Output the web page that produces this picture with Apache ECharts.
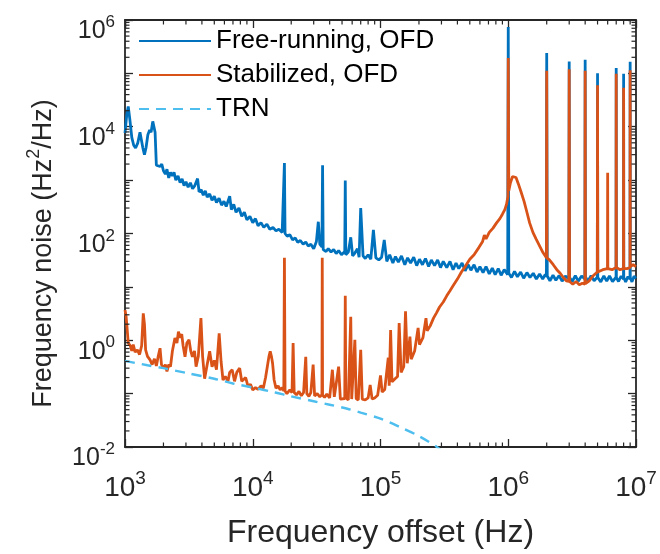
<!DOCTYPE html>
<html><head><meta charset="utf-8">
<script src="https://cdn.jsdelivr.net/npm/echarts@6/dist/echarts.min.js"></script>
<style>html,body{margin:0;padding:0;background:#fff}#c{width:660px;height:554px}</style>
</head><body><div id="c"></div>
<script>
const seriesNames = ['Free-running, OFD', 'Stabilized, OFD', 'TRN'];
const seriesColors = ['#0072BD', '#D95319', '#4DBEEE'];

// [frequency offset (Hz), frequency noise (Hz^2/Hz)]
const freeRunning = [
[1.00e3,7.6e3],[1.03e3,1.6e4],[1.06e3,2.4e4],[1.09e3,1.4e4],[1.13e3,6.3e3],[1.17e3,4.5e3],[1.21e3,4.0e3],[1.26e3,5.0e3],[1.31e3,7.9e3],[1.34e3,7.6e3],
[1.38e3,4.0e3],[1.42e3,3.0e3],[1.46e3,4.0e3],[1.51e3,7.1e3],[1.56e3,8.7e3],[1.60e3,7.9e3],[1.65e3,1.26e4],[1.69e3,1.35e4],[1.72e3,7.9e3],[1.76e3,1.9e3],
[1.82e3,2.0e3],[1.88e3,1.8e3],[1.94e3,2.0e3],[2.00e3,1.5e3],[2.07e3,1.3e3],[2.13e3,1.6e3],[2.20e3,1.1e3],[2.27e3,1.4e3],[2.35e3,1.2e3],[2.42e3,1.4e3],
[2.50e3,1.0e3],[2.60e3,1.2e3],[2.70e3,9.0e2],[2.80e3,1.05e3],[2.90e3,7.9e2],[3.00e3,9.3e2],[3.12e3,7.4e2],[3.25e3,8.9e2],[3.38e3,6.9e2],[3.52e3,7.9e2],
[3.70e3,1.07e3],[3.80e3,6.0e2],[3.95e3,6.6e2],[4.10e3,5.2e2],[4.25e3,6.3e2],[4.40e3,4.8e2],[4.60e3,5.5e2],[4.80e3,4.2e2],[5.00e3,5.0e2],[5.20e3,3.8e2],
[5.45e3,4.6e2],[5.70e3,3.4e2],[5.95e3,4.0e2],[6.20e3,3.2e2],[6.60e3,5.0e2],[6.80e3,2.8e2],[7.10e3,3.5e2],[7.40e3,2.5e2],[7.80e3,3.0e2],[8.20e3,2.1e2],
[8.60e3,2.5e2],[9.00e3,1.8e2],[9.50e3,2.1e2],[1.00e4,1.6e2],[1.05e4,1.9e2],[1.10e4,1.4e2],[1.16e4,1.6e2],[1.22e4,1.3e2],[1.29e4,1.5e2],[1.36e4,1.2e2],
[1.44e4,1.3e2],[1.52e4,1.12e2],[1.60e4,1.2e2],[1.70e4,1.05e2],[1.75e4,1.1e2],[1.77e4,2.1e3],[1.79e4,1.0e2],[1.86e4,8.9e1],[1.95e4,9.5e1],[2.05e4,7.6e1],
[2.15e4,8.3e1],[2.25e4,6.8e1],[2.36e4,7.4e1],[2.48e4,6.3e1],[2.60e4,6.9e1],[2.72e4,5.8e1],[2.85e4,6.3e1],[3.00e4,5.2e1],[3.15e4,7.1e1],[3.26e4,1.66e2],
[3.35e4,6.3e1],[3.48e4,5.6e1],[3.52e4,1.9e3],[3.56e4,5.0e1],[3.75e4,4.6e1],[3.90e4,5.2e1],[4.10e4,4.5e1],[4.30e4,5.0e1],[4.50e4,4.2e1],[4.70e4,4.8e1],
[4.95e4,4.0e1],[5.25e4,4.6e1],[5.30e4,9.8e2],[5.35e4,4.0e1],[5.60e4,4.5e1],[5.85e4,8.5e1],[6.05e4,3.8e1],[6.30e4,4.3e1],[6.60e4,5.2e1],[6.80e4,3.6e1],
[7.00e4,3.0e2],[7.30e4,3.8e1],[7.60e4,3.4e1],[8.00e4,4.0e1],[8.40e4,3.3e1],[8.80e4,1.17e2],[9.20e4,3.5e1],[9.70e4,3.2e1],[1.02e5,3.6e1],[1.07e5,7.6e1],
[1.12e5,30],[1.18e5,40],[1.25e5,28],[1.31e5,37],[1.38e5,29],[1.46e5,38],[1.55e5,26],[1.63e5,35],[1.72e5,28],[1.82e5,36],
[1.92e5,25],[2.02e5,33],[2.13e5,26],[2.25e5,34],[2.38e5,24],[2.50e5,32],[2.65e5,25],[2.80e5,32],[2.95e5,23],[3.10e5,30],
[3.30e5,23],[3.50e5,30],[3.70e5,21],[3.90e5,28],[4.10e5,22],[4.35e5,28],[4.60e5,20],[4.85e5,26],[5.10e5,20.5],[5.40e5,26],
[5.70e5,19],[6.00e5,24],[6.35e5,18.5],[6.70e5,24],[7.10e5,17.5],[7.50e5,22.5],[7.90e5,17],[8.35e5,22],[8.80e5,16.5],[9.30e5,21],
[9.90e5,17],[1.00e6,7.4e5],[1.01e6,18],[1.06e6,15],[1.12e6,19.5],[1.18e6,15.5],[1.25e6,19],[1.32e6,14.5],[1.40e6,18.5],[1.48e6,15],
[1.57e6,18],[1.66e6,14],[1.76e6,17.5],[1.86e6,14],[1.95e6,17],[1.99e6,15.5],[2.00e6,2.4e5],[2.02e6,16],[2.12e6,13],[2.24e6,16.5],
[2.36e6,13.3],[2.50e6,16.3],[2.64e6,12.8],[2.80e6,16],[2.98e6,14],[3.00e6,1.66e5],[3.02e6,15],[3.17e6,12.6],[3.35e6,16.2],[3.53e6,12.8],
[3.75e6,16],[3.98e6,14],[4.00e6,1.8e5],[4.02e6,15.5],[4.20e6,12.6],[4.45e6,16.2],[4.70e6,13],[4.98e6,15.2],[5.00e6,1.0e5],[5.02e6,15],
[5.30e6,12.4],[5.60e6,16],[5.90e6,12.8],[6.20e6,16],[6.55e6,12.6],[6.98e6,15.3],[7.00e6,1.26e5],[7.02e6,15],[7.30e6,12.6],[7.65e6,16],
[7.98e6,14],[8.00e6,9.8e4],[8.02e6,15],[8.30e6,12.4],[8.65e6,15.6],[8.98e6,14],[9.00e6,1.66e5],[9.02e6,15],[9.30e6,12.4],[9.65e6,15.8],
[1.00e7,14.5]
];

const stabilized = [
[1.00e3,3.7],[1.02e3,2.8],[1.04e3,1.6],[1.06e3,0.89],[1.10e3,0.79],[1.13e3,0.63],[1.16e3,0.83],[1.20e3,0.60],[1.25e3,0.66],[1.30e3,0.54],
[1.35e3,0.79],[1.39e3,3.2],[1.42e3,2.0],[1.45e3,0.66],[1.50e3,0.50],[1.57e3,0.43],[1.63e3,0.35],[1.70e3,0.45],[1.76e3,0.33],[1.82e3,0.50],
[1.88e3,0.71],[1.93e3,0.35],[2.00e3,0.30],[2.07e3,0.35],[2.13e3,0.26],[2.20e3,0.35],[2.27e3,0.32],[2.35e3,0.63],[2.46e3,1.1],[2.55e3,0.89],
[2.62e3,1.45],[2.70e3,1.12],[2.78e3,1.3],[2.85e3,0.79],[2.95e3,0.49],[3.05e3,0.89],[3.17e3,1.02],[3.27e3,0.63],[3.37e3,0.49],[3.50e3,0.63],
[3.60e3,0.32],[3.75e3,0.50],[3.93e3,2.6],[4.05e3,0.50],[4.20e3,0.19],[4.40e3,0.35],[4.60e3,0.62],[4.80e3,0.32],[5.00e3,0.42],[5.20e3,0.28],
[5.46e3,1.35],[5.65e3,0.40],[5.85e3,0.18],[6.10e3,0.21],[6.40e3,0.17],[6.60e3,0.25],[6.90e3,0.28],[7.20e3,0.17],[7.50e3,0.25],[7.90e3,0.30],
[8.20e3,0.17],[8.50e3,0.16],[8.80e3,0.20],[9.20e3,0.135],[9.60e3,0.15],[1.00e4,0.117],[1.05e4,0.13],[1.10e4,0.12],[1.16e4,0.14],[1.21e4,0.126],
[1.26e4,0.20],[1.30e4,0.32],[1.34e4,0.50],[1.37e4,0.62],[1.40e4,0.50],[1.43e4,0.37],[1.47e4,0.18],[1.52e4,0.126],[1.58e4,0.14],[1.64e4,0.117],
[1.70e4,0.13],[1.75e4,0.112],[1.77e4,35],[1.79e4,0.112],[1.85e4,0.10],[1.95e4,0.117],[2.03e4,0.105],[2.07e4,0.89],[2.11e4,0.105],[2.20e4,0.095],
[2.30e4,0.11],[2.40e4,0.091],[2.50e4,0.105],[2.60e4,0.49],[2.65e4,0.10],[2.75e4,0.089],[2.85e4,0.105],[2.97e4,0.35],[3.05e4,0.091],[3.20e4,0.10],
[3.35e4,0.087],[3.48e4,0.095],[3.50e4,35],[3.52e4,0.093],[3.65e4,0.085],[3.80e4,0.098],[4.00e4,0.083],[4.20e4,0.28],[4.35e4,0.087],[4.50e4,0.083],
[4.70e4,0.32],[4.85e4,0.079],[5.00e4,0.085],[5.25e4,0.081],[5.30e4,6.8],[5.35e4,0.083],[5.60e4,0.076],[5.85e4,2.75],[5.95e4,0.079],[6.15e4,0.076],
[6.30e4,1.02],[6.45e4,0.081],[6.70e4,0.076],[7.00e4,0.66],[7.20e4,0.079],[7.60e4,0.076],[8.00e4,0.083],[8.30e4,0.145],[8.60e4,0.079],[9.00e4,0.083],
[9.50e4,0.093],[1.00e5,0.22],[1.03e5,0.107],[1.08e5,0.12],[1.15e5,0.47],[1.17e5,0.14],[1.20e5,1.55],[1.23e5,0.166],[1.30e5,0.19],[1.36e5,0.21],
[1.40e5,2.1],[1.45e5,0.25],[1.52e5,0.32],[1.57e5,3.5],[1.62e5,0.37],[1.70e5,1.17],[1.74e5,0.44],[1.85e5,0.63],[1.97e5,1.7],[2.02e5,0.83],
[2.15e5,1.12],[2.27e5,2.6],[2.32e5,1.5],[2.45e5,1.86],[2.60e5,2.6],[2.75e5,3.3],[2.90e5,4.2],[3.10e5,5.2],[3.30e5,6.8],[3.50e5,8.5],
[3.70e5,10.5],[4.00e5,14],[4.30e5,19],[4.60e5,24],[5.00e5,33],[5.40e5,40],[5.90e5,55],[6.30e5,71],[6.50e5,93],[6.70e5,79],
[7.10e5,105],[7.60e5,126],[8.10e5,158],[8.60e5,190],[9.00e5,230],[9.40e5,280],[9.70e5,355],[9.95e5,500],[1.00e6,1.95e5],[1.01e6,630],
[1.04e6,890],[1.08e6,1170],[1.11e6,1260],[1.15e6,1120],[1.20e6,850],[1.26e6,600],[1.33e6,400],[1.40e6,250],[1.47e6,158],[1.56e6,105],
[1.65e6,79],[1.75e6,60],[1.87e6,44],[1.99e6,35],[2.00e6,1.12e5],[2.01e6,35],[2.10e6,32],[2.25e6,26],[2.40e6,21],[2.55e6,18],
[2.70e6,15],[2.85e6,13],[2.98e6,12.6],[3.00e6,1.2e5],[3.02e6,12.6],[3.20e6,11.2],[3.40e6,12.6],[3.60e6,11],[3.80e6,11.7],[3.98e6,11.2],
[4.00e6,1.12e5],[4.02e6,11.5],[4.30e6,13],[4.60e6,16],[4.98e6,19],[5.00e6,6.0e4],[5.02e6,19],[5.50e6,21],[5.98e6,22],[6.00e6,1380],
[6.02e6,22],[6.50e6,21],[6.98e6,23],[7.00e6,9.8e4],[7.02e6,23],[7.50e6,21],[7.98e6,22],[8.00e6,5.4e4],[8.02e6,22],[8.50e6,22],
[8.98e6,23],[9.00e6,1.15e5],[9.02e6,24],[9.50e6,26],[1.00e7,24]
];

const trn = [
[1.0e3,0.41],[1.5e3,0.34],[2.0e3,0.30],[3.0e3,0.245],[5.0e3,0.19],[7.0e3,0.155],[1.0e4,0.13],[1.5e4,0.105],[2.0e4,0.089],
[3.0e4,0.072],[4.0e4,0.062],[5.5e4,0.052],[7.0e4,0.044],[1.0e5,0.034],[1.4e5,0.024],[2.0e5,0.016],[2.76e5,0.010],[3.5e5,0.0063]
];

const xRange = [1e3, 1e7];
const yRange = [1e-2, 1e6];
const minorMultipliers = [2, 3, 4, 5, 6, 7, 8, 9];

const FONT = "'Liberation Sans', Arial, Helvetica, sans-serif";
const AXIS_COLOR = '#262626';

function expOf(v) { return Math.round(Math.log10(v)); }

const chart = echarts.init(document.getElementById('c'), null, { renderer: 'canvas' });

const tickStyle = { inside: true, length: 8, lineStyle: { color: AXIS_COLOR, width: 1.3 } };
const lineAxis = { show: true, onZero: false, lineStyle: { color: AXIS_COLOR, width: 1.8 } };

function xAxisBase(pos) {
  return {
    type: 'log', logBase: 10, min: xRange[0], max: xRange[1], position: pos,
    axisLine: lineAxis, axisTick: tickStyle, splitLine: { show: false }, minorTick: { show: false }
  };
}
function yAxisBase(pos) {
  return {
    type: 'log', logBase: 10, min: yRange[0], max: yRange[1], splitNumber: 8, position: pos,
    axisLine: lineAxis, axisTick: tickStyle, splitLine: { show: false }, minorTick: { show: false }
  };
}

const xMain = Object.assign(xAxisBase('bottom'), {
  name: 'Frequency offset (Hz)', nameLocation: 'middle', nameGap: 70,
  nameTextStyle: { fontFamily: FONT, fontSize: 32, color: AXIS_COLOR },
  axisLabel: {
    margin: 22,
    formatter: v => '{b|10}{s|' + expOf(v) + '}',
    rich: {
      b: { fontFamily: FONT, fontSize: 28, color: AXIS_COLOR, lineHeight: 33, verticalAlign: 'bottom' },
      s: { fontFamily: FONT, fontSize: 19, color: AXIS_COLOR, lineHeight: 19, verticalAlign: 'top' }
    }
  }
});
const xTop = Object.assign(xAxisBase('top'), { axisLabel: { show: false } });

const yMain = Object.assign(yAxisBase('left'), {
  name: '{a|Frequency noise (Hz}{s|2}{a|/Hz)}', nameLocation: 'middle', nameGap: 68,
  nameTextStyle: {
    padding: [0, 40, 0, 0],
    rich: {
      a: { fontFamily: FONT, fontSize: 27, color: AXIS_COLOR, lineHeight: 32, verticalAlign: 'bottom' },
      s: { fontFamily: FONT, fontSize: 18, color: AXIS_COLOR, lineHeight: 18, verticalAlign: 'top' }
    }
  },
  axisLabel: {
    margin: 10,
    padding: [18, 0, 0, 0],
    formatter: v => { const e = expOf(v); return (e % 2 === 0) ? '{b|10}{s|' + e + '}' : ''; },
    rich: {
      b: { fontFamily: FONT, fontSize: 25, color: AXIS_COLOR, lineHeight: 30, verticalAlign: 'bottom' },
      s: { fontFamily: FONT, fontSize: 17, color: AXIS_COLOR, lineHeight: 17, verticalAlign: 'top' }
    }
  }
});
const yRight = Object.assign(yAxisBase('right'), { axisLabel: { show: false } });

function minorTicks(params, api) {
  const cs = params.coordSys;
  const L = cs.x, T = cs.y, R = cs.x + cs.width, B = cs.y + cs.height;
  const len = 4.5;
  const st = { stroke: AXIS_COLOR, lineWidth: 1.2 };
  const children = [];
  for (let e = expOf(xRange[0]); e < expOf(xRange[1]); e++) {
    minorMultipliers.forEach(m => {
      const x = api.coord([m * Math.pow(10, e), 1])[0];
      children.push({ type: 'line', shape: { x1: x, y1: B, x2: x, y2: B - len }, style: st });
      children.push({ type: 'line', shape: { x1: x, y1: T, x2: x, y2: T + len }, style: st });
    });
  }
  for (let e = expOf(yRange[0]); e < expOf(yRange[1]); e++) {
    minorMultipliers.forEach(m => {
      const y = api.coord([1e4, m * Math.pow(10, e)])[1];
      children.push({ type: 'line', shape: { x1: L, y1: y, x2: L + len, y2: y }, style: st });
      children.push({ type: 'line', shape: { x1: R, y1: y, x2: R - len, y2: y }, style: st });
    });
  }
  return { type: 'group', children: children };
}

const option = {
  animation: false,
  backgroundColor: '#ffffff',
  grid: { left: 125, right: 24, top: 20, bottom: 107, containLabel: false },
  legend: {
    data: seriesNames, orient: 'vertical', left: 138, top: 28, padding: 0,
    itemWidth: 72, itemHeight: 26, itemGap: 8,
    itemStyle: { opacity: 0 },
    textStyle: { fontFamily: FONT, fontSize: 26, color: '#000', lineHeight: 26 }
  },
  xAxis: [xMain, xTop],
  yAxis: [yMain, yRight],
  series: [
    { type: 'custom', name: 'ticks', silent: true, z: 10, xAxisIndex: 0, yAxisIndex: 0,
      data: [[1e4, 1]], renderItem: minorTicks, clip: false },
    { type: 'line', name: seriesNames[0], data: freeRunning, symbol: 'none', clip: true, z: 2,
      color: seriesColors[0], lineStyle: { color: seriesColors[0], width: 2.8 } },
    { type: 'line', name: seriesNames[1], data: stabilized, symbol: 'none', clip: true, z: 3,
      color: seriesColors[1], lineStyle: { color: seriesColors[1], width: 2.8 } },
    { type: 'line', name: seriesNames[2], data: trn, symbol: 'none', clip: true, z: 4, smooth: 0.3,
      color: seriesColors[2], lineStyle: { color: seriesColors[2], width: 2.4, type: [10, 7] } }
  ]
};
chart.setOption(option);
</script>
</body></html>
